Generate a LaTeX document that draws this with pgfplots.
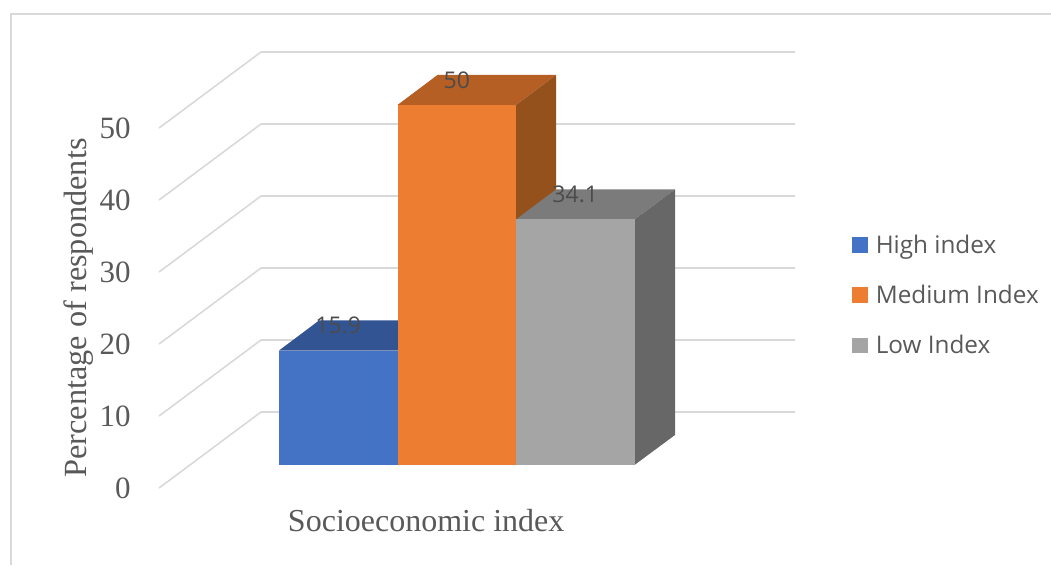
\documentclass[border=0pt]{standalone}
\usepackage{fontspec}
\setmainfont{Liberation Serif}
\newfontfamily\legendfont{Open Sans}
\usepackage{pgfplots}
\pgfplotsset{compat=1.18}
\definecolor{gridgray}{HTML}{D9D9D9}
\definecolor{textgray}{HTML}{595959}
\definecolor{blueF}{HTML}{4472C4}
\definecolor{blueT}{HTML}{325492}
\definecolor{orangeF}{HTML}{ED7D31}
\definecolor{orangeT}{HTML}{B65F24}
\definecolor{orangeS}{HTML}{95511C}
\definecolor{grayF}{HTML}{A5A5A5}
\definecolor{grayT}{HTML}{7B7B7B}
\definecolor{grayS}{HTML}{676767}
\pgfplotsset{
  swatch/.style={legend image code/.code={
    \fill[##1,draw=none] (0pt,-7.8pt) rectangle (15.6pt,7.8pt);}},
  frontbar/.style={ybar, bar shift=0pt, bar width=118.5, draw=none, fill=#1, swatch},
  wall/.style={draw=gridgray, line width=1.6pt, forget plot},
  face/.style={fill=#1, draw=none, forget plot},
}
\begin{document}
\begin{tikzpicture}
\useasboundingbox (0,0) rectangle (1051pt,565pt);
\begin{axis}[
  at={(0,0)}, anchor=south west,
  scale only axis, width=1051pt, height=565pt,
  xmin=0, xmax=1051, ymin=-13.889, ymax=64.583,
  clip=false,
  axis x line=bottom, axis y line=left,
  x axis line style={draw=none}, y axis line style={draw=none},
  tick style={draw=none},
  xtick=\empty,
  ytick={-3.2,6.8,16.8,26.8,36.8,46.8},
  yticklabels={0,10,20,30,40,50},
  yticklabel style={anchor=east, xshift=133pt, text=textgray,
    font=\fontsize{31}{31}\selectfont, inner xsep=0pt},
  ylabel={Percentage of respondents},
  ylabel style={at={(axis description cs:0.0750,0.455)}, anchor=center, rotate=0,
    text=textgray, font=\fontsize{32.3}{32.3}\selectfont},
  xlabel={Socioeconomic index},
  xlabel style={at={(axis description cs:0.4055,0.078)}, anchor=center,
    text=textgray, font=\fontsize{32}{32}\selectfont},
  legend cell align=left,
  legend style={at={(axis cs:852,23.6)}, anchor=west, draw=none, fill=none,
    font=\legendfont\fontsize{24.3}{24.3}\selectfont, text=textgray,
    row sep=26.3pt, inner sep=0pt,
    /tikz/every odd column/.append style={column sep=6pt}},
  nodes near coords,
  /pgf/number format/assume math mode=true,
  every node near coord/.append style={anchor=center, yshift=25pt,
    text=textgray!85!black, font=\legendfont\fontsize{23}{23}\selectfont},
]
% outer frame of the chart area
\addplot[draw=gridgray, line width=2pt, forget plot, nodes near coords={}] coordinates {(11,-13.889) (11,62.64) (1051,62.64)};

% back wall and side wall grid, one polyline per tick
\addplot[wall, nodes near coords={}] coordinates {(159,-3.2) (261,7.36) (795,7.36)};
\addplot[wall, nodes near coords={}] coordinates {(159,6.8) (261,17.36) (795,17.36)};
\addplot[wall, nodes near coords={}] coordinates {(159,16.8) (261,27.36) (795,27.36)};
\addplot[wall, nodes near coords={}] coordinates {(159,26.8) (261,37.36) (795,37.36)};
\addplot[wall, nodes near coords={}] coordinates {(159,36.8) (261,47.36) (795,47.36)};
\addplot[wall, nodes near coords={}] coordinates {(159,46.8) (261,57.36) (795,57.36)};

% receding faces of the three blocks
\addplot[face=blueT, nodes near coords={}] coordinates {(279,15.9) (397.5,15.9) (437.5,20.07) (319,20.07)} --cycle;
\addplot[face=orangeT, nodes near coords={}] coordinates {(397.5,50) (516,50) (556,54.17) (437.5,54.17)} --cycle;
\addplot[face=orangeS, nodes near coords={}] coordinates {(516,0) (556,4.17) (556,54.17) (516,50)} --cycle;
\addplot[face=grayT, nodes near coords={}] coordinates {(516,34.1) (634.5,34.1) (675,38.27) (556,38.27)} --cycle;
\addplot[face=grayS, nodes near coords={}] coordinates {(634.5,0) (675,4.17) (675,38.27) (634.5,34.1)} --cycle;

% front faces carrying the values
\addplot[frontbar=blueF] coordinates {(338.25,15.9)};
\addplot[frontbar=orangeF] coordinates {(456.75,50)};
\addplot[frontbar=grayF] coordinates {(575.25,34.1)};
\legend{High index,Medium Index,Low Index}
\end{axis}
\end{tikzpicture}
\end{document}
